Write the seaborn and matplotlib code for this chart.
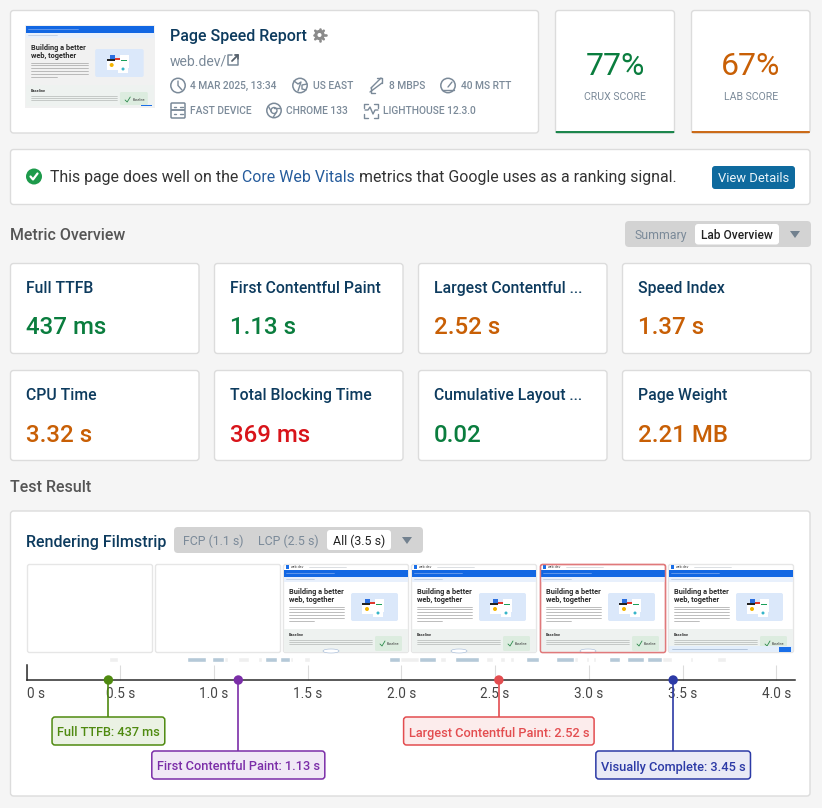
import numpy as np
import seaborn as sns
import matplotlib
matplotlib.use("Agg")
import matplotlib.pyplot as plt
from matplotlib.patches import FancyBboxPatch, Circle, Rectangle, Polygon, Ellipse

# -----------------------------------
# Values
# -----------------------------------
metric_names = ["Full TTFB", "First Contentful Paint", "Largest Contentful ...", "Speed Index",
                "CPU Time", "Total Blocking Time", "Cumulative Layout ...", "Page Weight"]
metric_values = ["437 ms", "1.13 s", "2.52 s", "1.37 s", "3.32 s", "369 ms", "0.02", "2.21 MB"]
metric_status = ["good", "good", "ok", "ok", "ok", "bad", "good", "ok"]

score_names = ["CRUX SCORE", "LAB SCORE"]
score_values = ["77%", "67%"]
score_status = ["good", "ok"]

meta_text = ["4 MAR 2025, 13:34", "US EAST", "8 MBPS", "40 MS RTT", "FAST DEVICE", "CHROME 133", "LIGHTHOUSE 12.3.0"]

tick_seconds = [0, 0.5, 1.0, 1.5, 2.0, 2.5, 3.0, 3.5, 4.0]
tick_labels = ["0 s", "0.5 s", "1.0 s", "1.5 s", "2.0 s", "2.5 s", "3.0 s", "3.5 s", "4.0 s"]

marker_names = ["Full TTFB", "First Contentful Paint", "Largest Contentful Paint", "Visually Complete"]
marker_seconds = [0.437, 1.13, 2.52, 3.45]
marker_text = ["437 ms", "1.13 s", "2.52 s", "3.45 s"]

# network activity strip, (start, end) in seconds
busy_blue = [(0.856, 0.957), (0.99, 1.053), (1.272, 1.336), (1.352, 1.405), (1.933, 1.992),
             (2.093, 2.184), (2.285, 2.413), (2.664, 2.733), (2.824, 2.92), (3.107, 3.165),
             (3.203, 3.293), (3.309, 3.389)]
busy_gray = [(0.44, 0.49), (1.053, 1.075), (1.128, 1.187), (1.235, 1.256), (1.405, 1.421),
             (1.48, 1.512), (1.992, 2.093), (2.205, 2.237), (2.451, 2.488), (2.525, 2.552),
             (2.579, 2.6), (2.92, 2.941), (2.984, 3.0), (3.021, 3.037), (3.389, 3.443),
             (3.539, 3.555), (3.683, 3.731), (4.093, 4.1)]

STATUS = {"good": "#0a7d3e", "ok": "#c85f05", "bad": "#d8141a"}
NAVY = "#0d3b5e"
MUTED = "#7b8a99"
MARKER_EDGE = ["#4f8a10", "#7b2ea8", "#e34d50", "#2c3aa6"]
MARKER_FILL = ["#ebf2e4", "#f0e8f6", "#fcecec", "#e9eaf6"]

sns.set_theme(style="white")
plt.rcParams["font.family"] = ["Roboto", "DejaVu Sans"]

W, H = 822, 808
fig = plt.figure(figsize=(W / 100, H / 100), dpi=100, facecolor="#f5f5f5")
ax = fig.add_axes([0, 0, 1, 1])
ax.set_xlim(0, W)
ax.set_ylim(H, 0)
ax.axis("off")


def px(size):
    # font size in pixels to points
    return size * 0.72


def box(x0, y0, x1, y1, fc="white", ec="#dcdcdc", r=3, lw=1.0, z=1):
    p = FancyBboxPatch((x0, y0), x1 - x0, y1 - y0, boxstyle=f"round,pad=0,rounding_size={r}",
                       fc=fc, ec=ec, lw=lw, zorder=z)
    ax.add_patch(p)
    return p


def label(x, y, s, size, color, weight="normal", ha="left", z=3):
    return ax.text(x, y, s, fontsize=px(size), color=color, fontweight=weight, ha=ha,
                   va="center_baseline", zorder=z)


def stroke(xs, ys, color=MUTED, lw=1.0, z=3):
    ax.plot(xs, ys, color=color, lw=lw, zorder=z, solid_capstyle="round", solid_joinstyle="round")


def ring(x, y, r, color=MUTED, lw=1.0, fc="none", z=3):
    ax.add_patch(Circle((x, y), r, fc=fc, ec=color, lw=lw, zorder=z))


def rect(x, y, w, h, color, z=2):
    ax.add_patch(Rectangle((x, y), w, h, fc=color, ec="none", zorder=z))


def triangle(x, y, color="#72818f"):
    ax.add_patch(Polygon([[x - 5, y - 3.5], [x + 5, y - 3.5], [x, y + 3.5]], fc=color, ec="none", zorder=4))


def draw_page(x0, top, w, nav=True, banner=False):
    # miniature of the tested page, offsets measured from the top of the blue bar
    k = w / 124

    def X(v):
        return x0 + v * k

    if nav:
        rect(X(2), top - 5, 3, 4, "#1a6fe8")
        ax.text(X(7), top - 3, "web.dev", fontsize=2.6, color="#444444", va="center", zorder=3)
        stroke([X(25), X(62)], [top - 3, top - 3], "#ced2d6", 0.5)
    rect(X(0), top, w, 6.5, "#1267e3")
    rect(X(0), top + 6.5, w, 5.5, "#e8f0fc")
    stroke([X(2), X(50)], [top + 3, top + 3], "#7fa9ee", 0.5)
    stroke([X(2), X(30)], [top + 9, top + 9], "#b5c6dc", 0.5)
    ax.text(X(5), top + 22.5, "Building a better", fontsize=5.3, fontweight="bold", color="#2a2a2a",
            va="center", zorder=3)
    ax.text(X(5), top + 29.5, "web, together", fontsize=5.3, fontweight="bold", color="#2a2a2a",
            va="center", zorder=3)
    for i in range(6):
        stroke([X(5), X(60 - (30 if i == 5 else 0))], [top + 36.5 + i * 2.8] * 2, "#a2a2a2", 0.5)
    # illustration
    ax.add_patch(FancyBboxPatch((X(67), top + 23), 47 * k, 28, boxstyle="round,pad=0,rounding_size=2",
                                fc="#dbe8fa", ec="none", zorder=2))
    rect(X(78), top + 33, 13, 11, "white", 3)
    rect(X(91), top + 29, 9, 13, "white", 3)
    rect(X(89), top + 39, 10, 8, "white", 3)
    rect(X(81), top + 29, 5, 5, "#2b6fe0", 4)
    rect(X(78), top + 33, 8, 1.6, "#222222", 4)
    rect(X(86), top + 32, 5, 2, "#e0382e", 4)
    rect(X(92), top + 34, 6, 1.2, "#19a05a", 4)
    ax.add_patch(Circle((X(83), top + 39), 2, fc="#f4b400", ec="none", zorder=4))
    ax.add_patch(Circle((X(94), top + 43), 1.5, fc="#35b5c9", ec="none", zorder=4))
    # baseline block
    bottom = top + 82 if nav else top + 80
    rect(X(0), top + 59, w, bottom - top - 59, "#eef2f0")
    ax.text(X(5), top + 65, "Baseline", fontsize=2.8, fontweight="bold", color="#333333", va="center", zorder=3)
    for i in range(3):
        stroke([X(5), X(88)], [top + 70 + i * 1.8] * 2, "#a5a9a7", 0.4)
    ax.add_patch(FancyBboxPatch((X(91), top + 66), 27 * k, bottom - top - 67, boxstyle="round,pad=0,rounding_size=1.5",
                                fc="#dcecdf", ec="none", zorder=3))
    stroke([X(96), X(98), X(101)], [top + 74, top + 76, top + 71], "#2c8a4b", 0.6, z=4)
    ax.text(X(103), top + 74, "Baseline", fontsize=2.4, color="#444444", va="center", zorder=4)
    if banner:
        rect(X(0), bottom - 6, w, 6, "#e3eefb", 4)
        stroke([X(3), X(78)], [bottom - 3, bottom - 3], "#9db3ce", 0.5, z=5)
        rect(X(110), bottom - 5, 12, 4.5, "#1a6fe8", 5)
    elif nav:
        ax.add_patch(Ellipse((X(47), bottom - 1), 16, 4, fc="white", ec="#9fb6d6", lw=0.4, zorder=4))


# -----------------------------------
# Header cards
# -----------------------------------
box(10.5, 10.5, 538.5, 133)
rect(25, 25, 130, 83, "#f1f1f1", 1)
draw_page(26, 26, 128, nav=False)
rect(141, 104.5, 11, 1.5, "#1a6fe8", 5)

label(170, 35.5, "Page Speed Report", 16, NAVY, "medium")
label(170, 60, "web.dev/", 14, MUTED)

# gear icon
ring(319.5, 35, 3.6, "#8a8a8a", 2.2)
for a in np.arange(0, 360, 45):
    c, s = np.cos(np.radians(a)), np.sin(np.radians(a))
    stroke([319.5 + 4.5 * c, 319.5 + 6 * c], [35 + 4.5 * s, 35 + 6 * s], "#8a8a8a", 1.9)
# external link icon
stroke([232, 228, 228, 238, 238], [55, 55, 65, 65, 60], MUTED, 1.1)
stroke([232, 238], [61, 55], "#55606b", 1.3)
stroke([234.5, 238, 238], [55, 55, 58.5], "#55606b", 1.3)

meta_x = [190, 313, 389, 461, 190, 286, 383]
meta_y = [85, 85, 85, 85, 110, 110, 110]
for x, y, t in zip(meta_x, meta_y, meta_text):
    label(x, y, t, 10.2, MUTED, "medium")

# clock
ring(178, 85.5, 7.2, MUTED, 1.1)
stroke([178, 178, 182], [81, 85.5, 90])
# globe
ring(300, 85.5, 7.2, MUTED, 1.1)
stroke([294, 298, 301, 298], [81, 84, 82, 91])
stroke([307, 302, 302, 306], [84, 85, 89, 90])
# arrows
stroke([371, 381], [88, 78])
stroke([376.5, 381.5, 381.5], [78, 78, 83])
stroke([370, 382], [92, 83])
stroke([370.5, 370.5, 375], [87, 92.5, 92.5])
# gauge
ring(448, 85.5, 7.2, MUTED, 1.1)
stroke([448, 452], [87, 82])
stroke([442, 454], [90, 90])
# server
box(171, 103, 185, 110, "none", MUTED, 1, 1.1, z=3)
box(171, 110, 185, 118, "none", MUTED, 1, 1.1, z=3)
for row in [106.5, 114]:
    stroke([173.5, 175.5], [row, row])
    stroke([179.5, 182.5], [row, row])
# chrome
ring(274, 110.5, 7.2, MUTED, 1.1)
ring(274, 110.5, 3, MUTED, 1.0)
stroke([274, 280], [107.5, 107.5])
stroke([271.5, 268.5], [112, 106.5])
stroke([276.5, 273], [112, 117.5])
# lighthouse
for sx, sy in [(-1, -1), (1, -1), (-1, 1), (1, 1)]:
    stroke([371 + sx * 7, 371 + sx * 7, 371 + sx * 3], [110.5 + sy * 3, 110.5 + sy * 7, 110.5 + sy * 7])
stroke([365, 368, 370, 373, 375, 378], [110, 110, 107, 114, 110, 110])

score_x = [(555.5, 674.5), (691.5, 810)]
for (x0, x1), name, value, status in zip(score_x, score_names, score_values, score_status):
    box(x0, 10.5, x1, 133)
    ax.add_patch(FancyBboxPatch((x0 + 0.5, 131.5), x1 - x0 - 1, 1.2, boxstyle="round,pad=0,rounding_size=0.6",
                                fc=STATUS[status], ec=STATUS[status], lw=0.6, zorder=3))
    label((x0 + x1) / 2, 63.5, value, 32, STATUS[status], ha="center")
    label((x0 + x1) / 2, 95.5, name, 10.5, MUTED, ha="center")

# -----------------------------------
# Banner
# -----------------------------------
box(10.5, 149.5, 810, 204.5)
ring(34, 176.5, 8, "#1d9a4b", 0, fc="#1d9a4b")
stroke([30.5, 33, 37.5], [176.5, 179.5, 173.5], "white", 1.6, z=4)

renderer = fig.canvas.get_renderer()
cursor = 50
for part, color in [("This page does well on the ", "#333333"), ("Core Web Vitals", "#265c9c"),
                    (" metrics that Google uses as a ranking signal.", "#333333")]:
    t = label(cursor, 176, part.replace(" ", "\u00a0"), 15.9, color)
    cursor = t.get_window_extent(renderer).x1

box(712, 166, 795, 189, "#0e6a9e", "none", 3)
label(753.5, 177.5, "View Details", 13, "#eaf4fa", ha="center")

# -----------------------------------
# Metric overview
# -----------------------------------
label(10, 233.5, "Metric Overview", 16, "#555555", "medium")
box(625, 221, 811, 247, "#d3d3d3", "none", 4)
label(634.5, 234, "Summary", 12.3, MUTED)
box(695, 224, 779, 244.5, "white", "none", 3)
label(737, 234, "Lab Overview", 12, "#222222", "medium", ha="center")
triangle(795, 234.5)

card_x = [10.5, 214.5, 418.5, 622.5]
card_y = [263.5, 370.5]
for i, (name, value, status) in enumerate(zip(metric_names, metric_values, metric_status)):
    x0 = card_x[i % 4]
    y0 = card_y[i // 4]
    box(x0, y0, x0 + 188.5, y0 + 90)
    label(x0 + 15.5, y0 + 23.5, name, 15.7, NAVY, "medium")
    label(x0 + 15.5, y0 + 62, value, 24, STATUS[status], "medium")

# -----------------------------------
# Filmstrip
# -----------------------------------
label(10, 486.5, "Test Result", 16, "#555555", "medium")
box(10.5, 511, 810, 796)
label(26, 540.5, "Rendering Filmstrip", 16, NAVY, "medium")
box(174, 527, 423, 553, "#d3d3d3", "none", 4)
label(183, 540, "FCP (1.1 s)", 12.4, MUTED)
label(258, 540, "LCP (2.5 s)", 12.4, MUTED)
box(327, 530, 391, 550, "white", "none", 3)
label(359, 540, "All (3.5 s)", 12.4, "#222222", ha="center")
triangle(407, 540.5)

frame_x = [27.5, 155.5, 283.5, 411.5, 540.5, 668.5]
for i, x in enumerate(frame_x):
    edge = "#e0797b" if i == 4 else "#e6e6e6"
    box(x, 564.5, x + 125, 652.5, "white", edge, 2, 1.0)
    if i >= 2:
        draw_page(x + 0.5, 570, 124, banner=i == 5)
        if i == 4:
            box(x, 564.5, x + 125, 652.5, "none", edge, 2, 1.0, z=6)

# -----------------------------------
# Timeline, positioned so 0 s is x=26.5 and 4.1 s is x=795
# -----------------------------------
TL_LEFT, TL_RIGHT, TL_TOP, TL_BOTTOM, TL_END = 26.5, 795.0, 655, 790, 4.1
tl = fig.add_axes([TL_LEFT / W, 1 - TL_BOTTOM / H, (TL_RIGHT - TL_LEFT) / W, (TL_BOTTOM - TL_TOP) / H])
tl.patch.set_alpha(0)
for side in ["top", "right"]:
    tl.spines[side].set_visible(False)
AXIS_Y = 680
tl.broken_barh([(a, b - a) for a, b in busy_gray], (657, 5), facecolors="#efefef", zorder=1)
tl.broken_barh([(a, b - a) for a, b in busy_blue], (657, 5), facecolors="#b5c9d8", zorder=2)

box_rows = [717, 751, 717, 751]
tl.vlines(marker_seconds, AXIS_Y, box_rows, colors=MARKER_EDGE, lw=1.2, zorder=3)
sns.scatterplot(x=marker_seconds, y=[AXIS_Y] * 4, hue=marker_names, palette=MARKER_EDGE, s=46, linewidth=0,
                legend=False, ax=tl, zorder=5, clip_on=False)
tl.set_xlim(0, TL_END)
tl.set_ylim(TL_BOTTOM, TL_TOP)
tl.spines["bottom"].set_position(("data", AXIS_Y))
tl.spines["bottom"].set_color("#2b2b2b")
tl.spines["bottom"].set_linewidth(1.1)
tl.spines["left"].set_color("#2b2b2b")
tl.spines["left"].set_bounds(AXIS_Y, 665)
tl.spines["left"].set_linewidth(1.1)
tl.set_yticks([])
tl.set_xticks(tick_seconds)
tl.set_xticklabels(tick_labels, fontsize=px(13.5), color="#444444")
tl.tick_params(axis="x", direction="in", length=px(15), width=0.8, color="#dcdcdc", pad=5, bottom=True)
tl.get_xticklabels()[0].set_ha("left")

for name, sec, txt, top, edge, fill in zip(marker_names, marker_seconds, marker_text, box_rows, MARKER_EDGE, MARKER_FILL):
    cx = TL_LEFT + sec / TL_END * (TL_RIGHT - TL_LEFT)
    t = label(cx, top + 14.5, f"{name}: {txt}", 12.8, edge, "medium", ha="center", z=8)
    half = t.get_window_extent(renderer).width / 2 + 5
    box(cx - half, top, cx + half, top + 28, fill, edge, 3, 1.1, z=7)

fig.savefig("out.png", dpi=100, facecolor=fig.get_facecolor())
